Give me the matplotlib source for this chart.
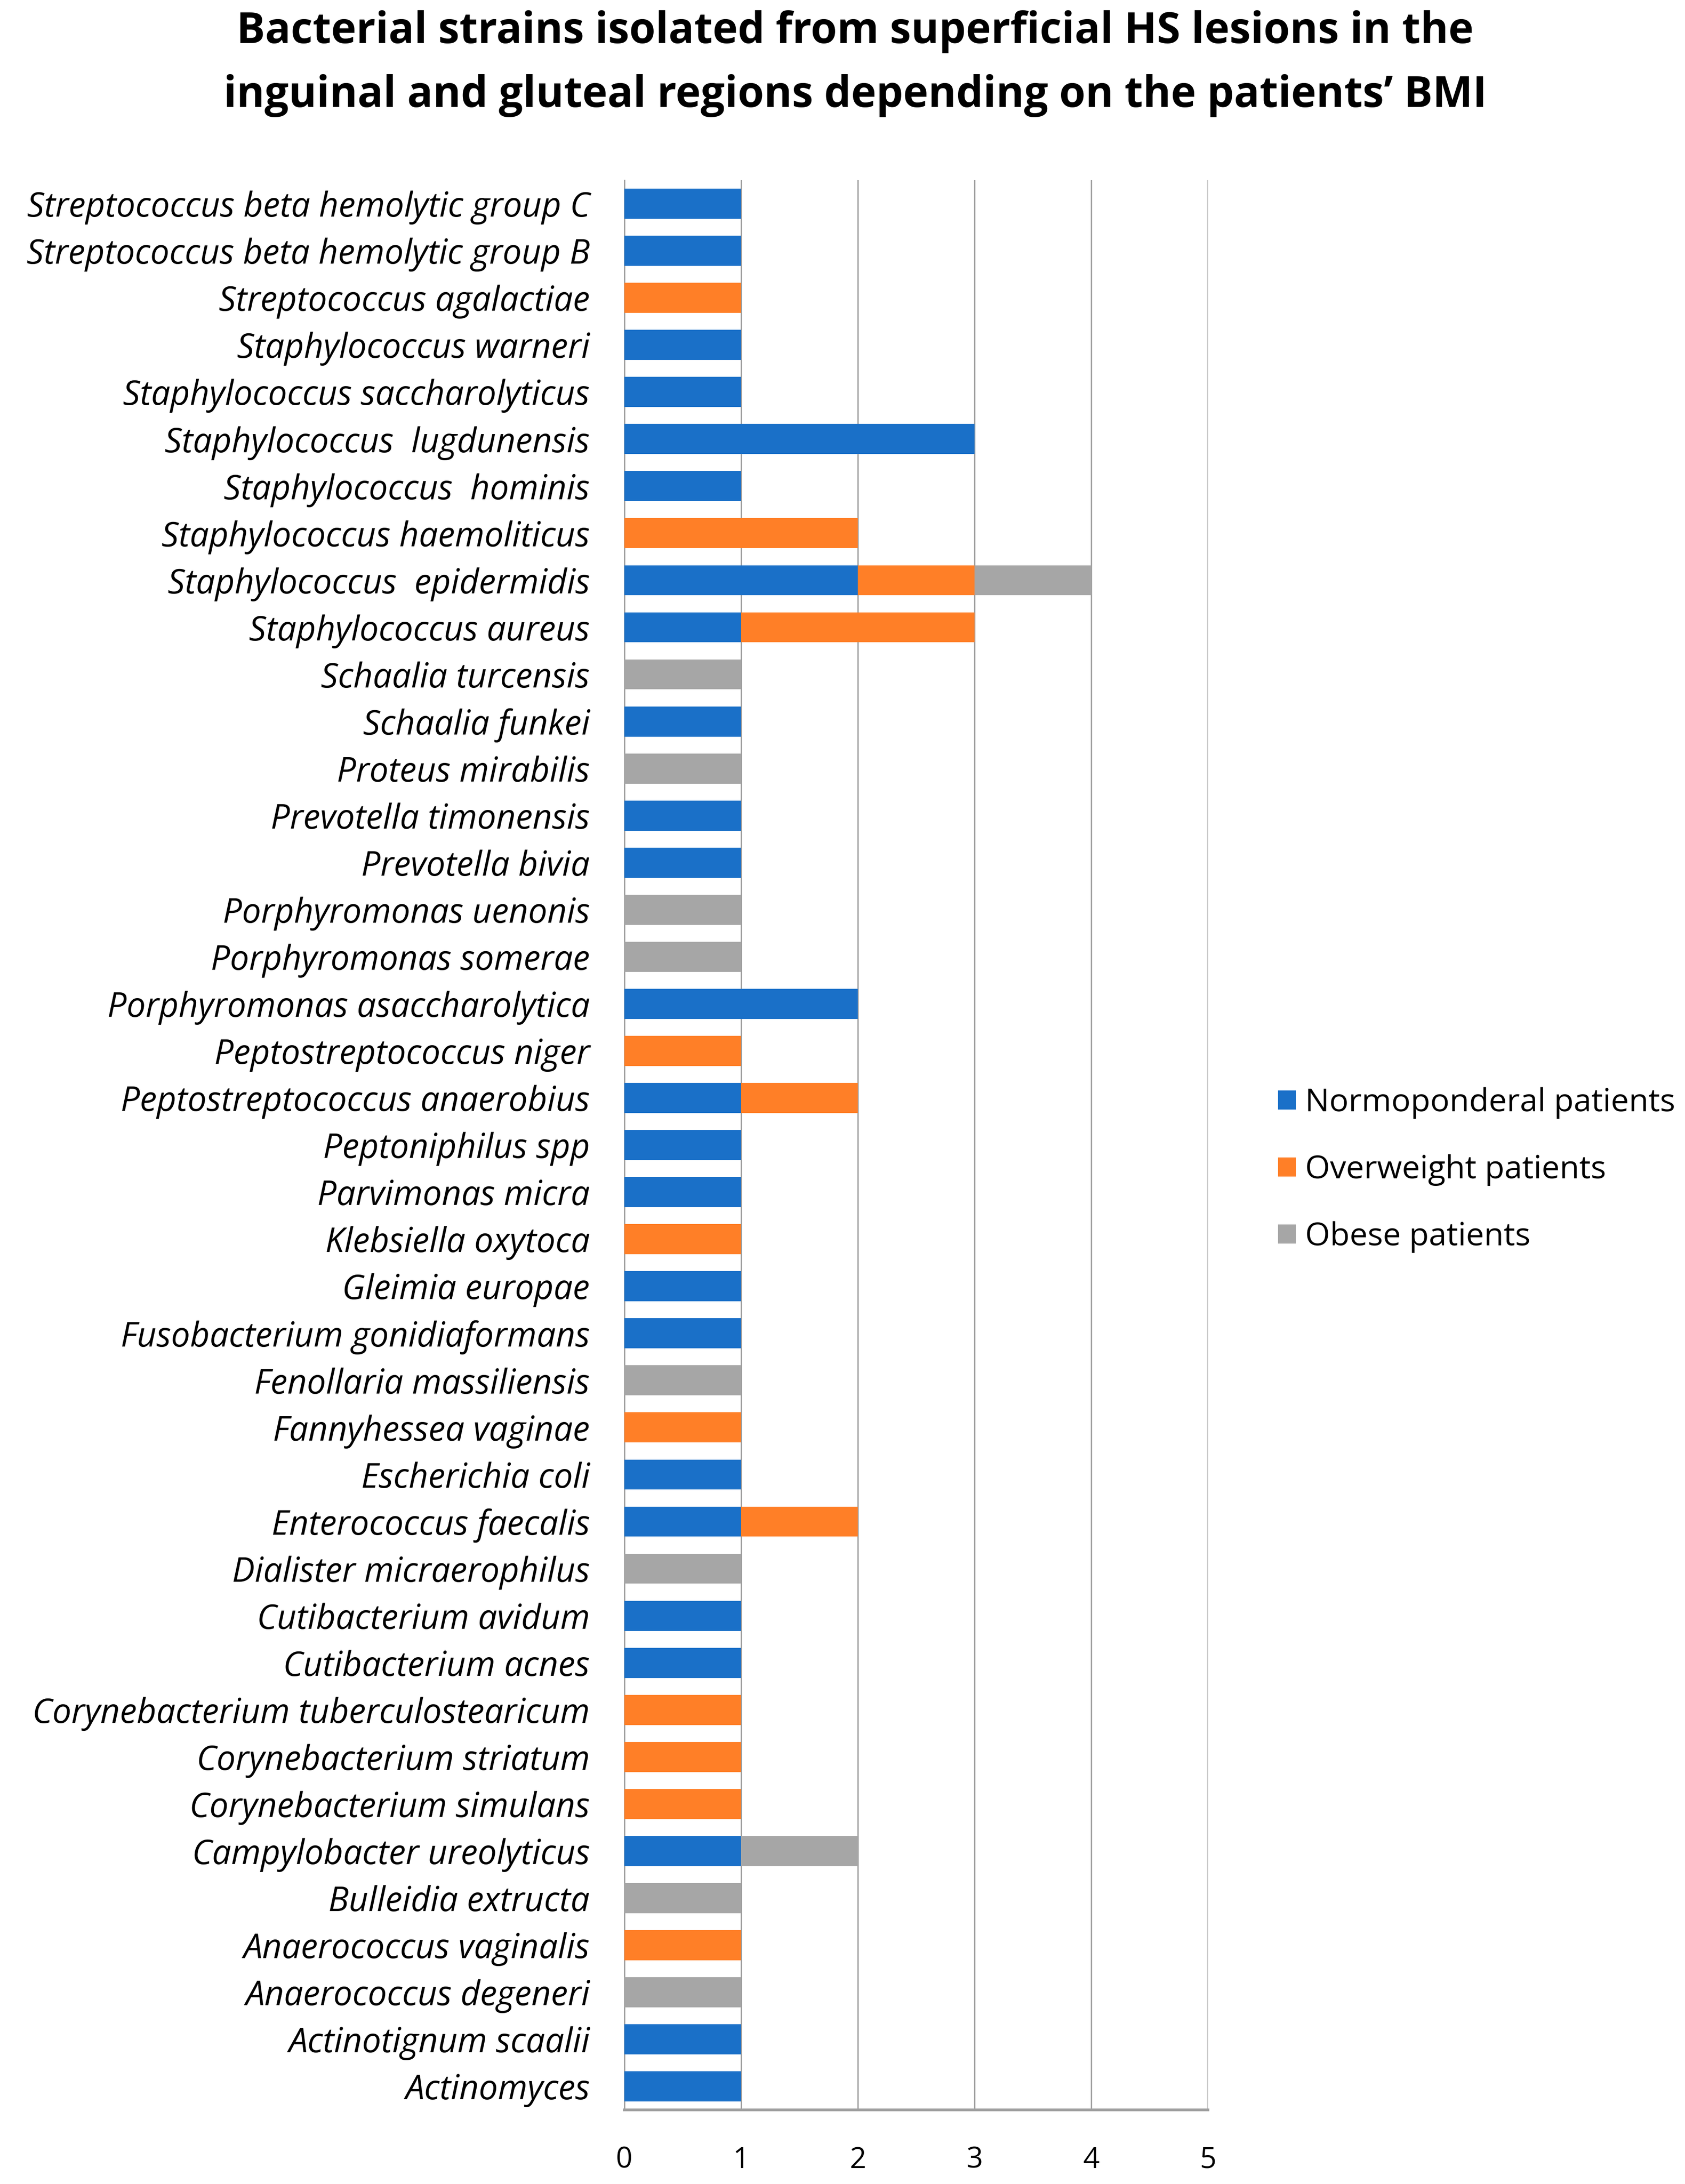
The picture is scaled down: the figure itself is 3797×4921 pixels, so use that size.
import numpy as np
import matplotlib.pyplot as plt

# strains, top to bottom as in the chart
strains = [
    'Streptococcus beta hemolytic group C',
    'Streptococcus beta hemolytic group B',
    'Streptococcus agalactiae',
    'Staphylococcus warneri',
    'Staphylococcus saccharolyticus',
    'Staphylococcus  lugdunensis',
    'Staphylococcus  hominis',
    'Staphylococcus haemoliticus',
    'Staphylococcus  epidermidis',
    'Staphylococcus aureus',
    'Schaalia turcensis',
    'Schaalia funkei',
    'Proteus mirabilis',
    'Prevotella timonensis',
    'Prevotella bivia',
    'Porphyromonas uenonis',
    'Porphyromonas somerae',
    'Porphyromonas asaccharolytica',
    'Peptostreptococcus niger',
    'Peptostreptococcus anaerobius',
    'Peptoniphilus spp',
    'Parvimonas micra',
    'Klebsiella oxytoca',
    'Gleimia europae',
    'Fusobacterium gonidiaformans',
    'Fenollaria massiliensis',
    'Fannyhessea vaginae',
    'Escherichia coli',
    'Enterococcus faecalis',
    'Dialister micraerophilus',
    'Cutibacterium avidum',
    'Cutibacterium acnes',
    'Corynebacterium tuberculostearicum',
    'Corynebacterium striatum',
    'Corynebacterium simulans',
    'Campylobacter ureolyticus',
    'Bulleidia extructa',
    'Anaerococcus vaginalis',
    'Anaerococcus degeneri',
    'Actinotignum scaalii',
    'Actinomyces',
]
normoponderal = [1, 1, 0, 1, 1, 3, 1, 0, 2, 1, 0, 1, 0, 1, 1, 0, 0, 2, 0, 1, 1,
                 1, 0, 1, 1, 0, 0, 1, 1, 0, 1, 1, 0, 0, 0, 1, 0, 0, 0, 1, 1]
overweight = [0, 0, 1, 0, 0, 0, 0, 2, 1, 2, 0, 0, 0, 0, 0, 0, 0, 0, 1, 1, 0,
              0, 1, 0, 0, 0, 1, 0, 1, 0, 0, 0, 1, 1, 1, 0, 0, 1, 0, 0, 0]
obese = [0, 0, 0, 0, 0, 0, 0, 0, 1, 0, 1, 0, 1, 0, 0, 1, 1, 0, 0, 0, 0,
         0, 0, 0, 0, 1, 0, 0, 0, 1, 0, 0, 0, 0, 0, 1, 1, 0, 1, 0, 0]
series_names = ['Normoponderal patients', 'Overweight patients', 'Obese patients']
colors = ['#1A70C8', '#FF7F27', '#A6A6A6']
x_ticks = [0, 1, 2, 3, 4, 5]

FONT = 'Open Sans'

fig = plt.figure(figsize=(37.97, 49.21), dpi=100)
ax = fig.add_axes([0.3705, 0.0339, 0.3465, 0.8836])

y = np.arange(len(strains))
left = np.zeros(len(strains))
for vals, name, c in zip([normoponderal, overweight, obese], series_names, colors):
    ax.barh(y, vals, left=left, height=0.64, color=c, label=name, zorder=3)
    left += np.array(vals)

ax.set_ylim(len(strains) - 0.5, -0.5)
ax.set_xlim(0, 5)
ax.set_xticks(x_ticks)
ax.set_xticklabels([str(t) for t in x_ticks], family=FONT, fontsize=47)
ax.set_yticks(y)
ax.set_yticklabels(strains, family=FONT, style='italic', fontsize=55)
ax.tick_params(axis='both', length=0, colors='black')
ax.tick_params(axis='x', pad=58)
ax.tick_params(axis='y', pad=56)

ax.grid(axis='x', color='#A0A0A0', linewidth=2.2, zorder=0)
for s in ['top', 'right']:
    ax.spines[s].set_visible(False)
ax.spines['left'].set_color('#A0A0A0')
ax.spines['left'].set_linewidth(2.2)
ax.spines['bottom'].set_color('#A0A0A0')
ax.spines['bottom'].set_linewidth(4.5)

fig.text(0.5075, 1 - 72 / 4921, 'Bacterial strains isolated from superficial HS lesions in the',
         ha='center', va='center', family=FONT, weight='bold', fontsize=69)
fig.text(0.5075, 1 - 215 / 4921, 'inguinal and gluteal regions depending on the patients\u2019 BMI',
         ha='center', va='center', family=FONT, weight='bold', fontsize=69)

leg = ax.legend(loc='center left', bbox_to_anchor=(0.7585, 0.4643), bbox_transform=fig.transFigure,
                frameon=False, prop={'family': FONT, 'size': 52}, handlelength=0.55,
                handleheight=0.55, handletextpad=0.3, labelspacing=1.1, borderpad=0,
                borderaxespad=0)

fig.savefig('out.png', dpi=100, facecolor='white')
